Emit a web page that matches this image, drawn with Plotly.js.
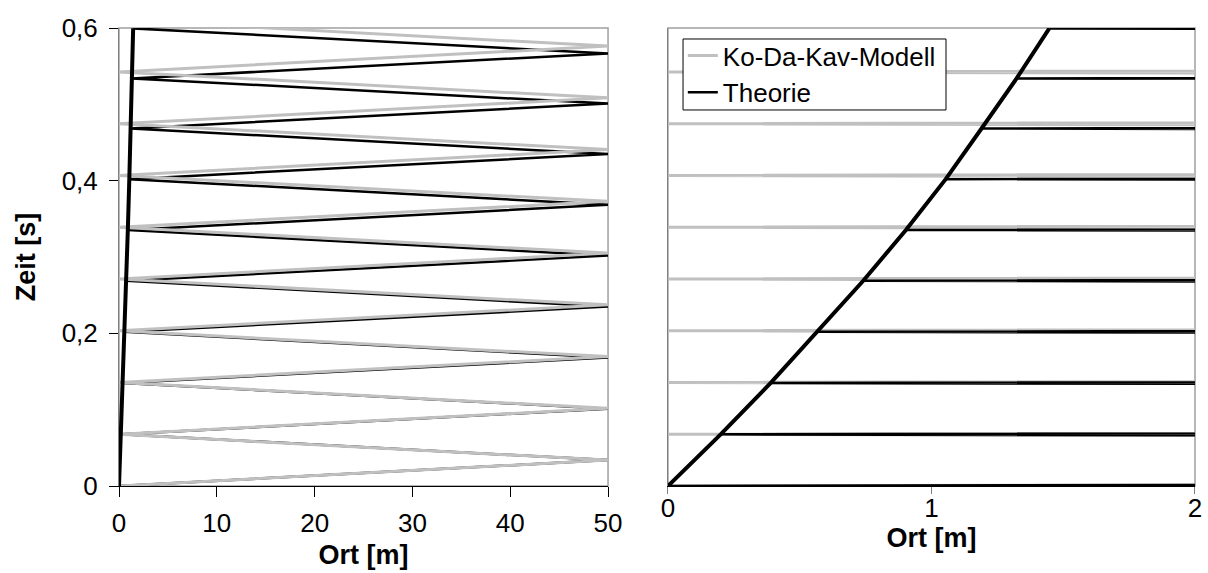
<!DOCTYPE html>
<html>
<head>
<meta charset="utf-8">
<script src="https://cdn.plot.ly/plotly-3.0.1.min.js"></script>
<style>body{margin:0;padding:0;background:#fff;}#chart{width:1208px;height:573px;}</style>
</head>
<body>
<div id="chart"></div>
<script>
// Ko-Da-Kav-Modell (grey): wave reflected between x=0 and x=50
const grayX = [0, 50, 0, 50, 0, 50, 0, 50, 0, 50, 0, 50, 0, 50, 0, 50, 0, 50, 0];
const grayT = [0, 0.0339, 0.0678, 0.1017, 0.1356, 0.1695, 0.2034, 0.2373, 0.2712, 0.3051,
               0.3390, 0.3729, 0.4068, 0.4407, 0.4746, 0.5085, 0.5424, 0.5763, 0.6102];
// Theorie (black): wave reflected between moving boundary and x=50
const blackX = [0, 50, 0.20, 50, 0.39, 50, 0.568, 50, 0.741, 50, 0.903, 50, 1.054, 50, 1.19, 50, 1.323, 50, 1.447];
const blackT = [0, 0.0339, 0.0677, 0.1013, 0.1350, 0.1683, 0.2020, 0.2351, 0.2689, 0.3019,
                0.3353, 0.3684, 0.4020, 0.4349, 0.4683, 0.5010, 0.5340, 0.5667, 0.5995];
// Theorie boundary
const boundX = [0, 0.20, 0.39, 0.568, 0.741, 0.903, 1.054, 1.19, 1.323, 1.447];
const boundT = [0, 0.0677, 0.1350, 0.2020, 0.2689, 0.3353, 0.4020, 0.4683, 0.5340, 0.5995];

const seriesNames = ['Ko-Da-Kav-Modell', 'Theorie'];
const xTicksLeft = [0, 10, 20, 30, 40, 50];
const xTicksRight = [0, 1, 2];
const yTickVals = [0, 0.2, 0.4, 0.6];
const yTickText = ['0', '0,2', '0,4', '0,6'];
const xTitle = 'Ort [m]';
const yTitle = 'Zeit [s]';

const FONT = 'Liberation Sans, Arial, sans-serif';
const GRAY = '#c0c0c0';

function grayTrace(xa, ya, legend) {
  return {x: grayX, y: grayT, xaxis: xa, yaxis: ya, mode: 'lines', name: seriesNames[0],
          showlegend: legend, line: {color: GRAY, width: 3}};
}
function blackTrace(xa, ya, legend) {
  return {x: blackX, y: blackT, xaxis: xa, yaxis: ya, mode: 'lines', name: seriesNames[1],
          showlegend: legend, line: {color: '#000', width: 2.5}};
}
function boundTrace(xa, ya) {
  return {x: boundX, y: boundT, xaxis: xa, yaxis: ya, mode: 'lines', name: seriesNames[1],
          showlegend: false, line: {color: '#000', width: 4}};
}

const data = [
  grayTrace('x2', 'y2', true), blackTrace('x2', 'y2', true), boundTrace('x2', 'y2'),
  blackTrace('x', 'y', false), grayTrace('x', 'y', false), boundTrace('x', 'y')
];

const tickFont = {family: FONT, size: 26, color: '#000'};
const titleFont = {family: FONT, size: 27, color: '#000', weight: 700};

const layout = {
  width: 1208, height: 573,
  margin: {l: 119, r: 13, t: 28, b: 87},
  paper_bgcolor: '#fff', plot_bgcolor: '#fff',
  separators: ',.',
  showlegend: true,
  legend: {x: 0.524, y: 0.9912, xanchor: 'left', yanchor: 'top', bgcolor: 'rgba(0,0,0,0)',
           borderwidth: 0, font: {family: FONT, size: 26, color: '#000'},
           traceorder: 'normal'},
  xaxis: {domain: [0, 0.4545], anchor: 'y', range: [0, 50], tickvals: xTicksLeft,
          ticks: 'outside', ticklen: 10, tickcolor: '#000', showline: true, linecolor: '#000',
          showgrid: false, zeroline: false, tickfont: tickFont, ticklabelstandoff: 4,
          title: {text: xTitle, font: titleFont, standoff: 7}},
  yaxis: {domain: [0, 1], anchor: 'x', range: [0, 0.6], tickvals: yTickVals, ticktext: yTickText,
          ticks: 'outside', ticklen: 9, tickcolor: '#000', showline: true, linecolor: '#808080',
          showgrid: false, zeroline: false, tickfont: tickFont, ticklabelstandoff: 6,
          title: {text: yTitle, font: titleFont, standoff: 18}},
  xaxis2: {domain: [0.5102, 1], anchor: 'y2', range: [0, 2], tickvals: xTicksRight,
           ticks: 'outside', ticklen: 7, tickcolor: '#808080', showline: true, linecolor: '#000',
           showgrid: false, zeroline: false, tickfont: tickFont, ticklabelstandoff: -8,
           title: {text: xTitle, font: titleFont, standoff: 3}},
  yaxis2: {domain: [0, 1], anchor: 'x2', range: [0, 0.6], showticklabels: false, ticks: '',
           showline: true, linecolor: '#808080', showgrid: false, zeroline: false},
  shapes: [
    {type: 'rect', xref: 'x domain', yref: 'y domain', x0: 0, x1: 1, y0: 0, y1: 1,
     line: {color: '#a0a0a0', width: 1.5}, layer: 'below'},
    {type: 'rect', xref: 'x2 domain', yref: 'y2 domain', x0: 0, x1: 1, y0: 0, y1: 1,
     line: {color: '#a0a0a0', width: 1.5}, layer: 'below'},
    // legend box
    {type: 'rect', xref: 'paper', yref: 'paper', x0: 0.5242, x1: 0.7686, y0: 0.821, y1: 0.976,
     fillcolor: '#fff', line: {color: '#000', width: 1}, layer: 'above'}
  ]
};

Plotly.newPlot('chart', data, layout, {displayModeBar: false, staticPlot: true});
</script>
</body>
</html>
